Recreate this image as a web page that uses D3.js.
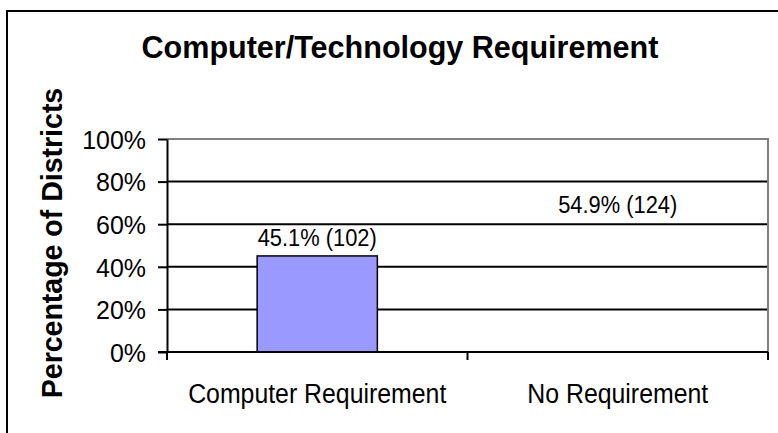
<!DOCTYPE html>
<html>
<head>
<meta charset="utf-8">
<script src="https://cdn.jsdelivr.net/npm/d3@7"></script>
<style>
  body { margin: 0; background: #fff; }
  text { font-family: "Liberation Sans", Arial, sans-serif; fill: #000; }
</style>
</head>
<body>
<div id="vis"></div>
<script>
// chart data
var categories = ['Computer Requirement', 'No Requirement'];
var percents = [45.1, 54.9];
var counts = [102, 124];
var yTicks = [0, 20, 40, 60, 80, 100];

var width = 778;
var height = 433;
var plot = { left: 167, right: 768, top: 139, bottom: 352 };

var barColors = ['#9999FF', 'none'];
var labelOffsets = [10, 22];

var svg = d3.select('#vis')
  .append('svg')
  .attr('width', width)
  .attr('height', height);

// outer frame
svg.append('rect')
  .attr('x', 7)
  .attr('y', 11)
  .attr('width', 800)
  .attr('height', 500)
  .attr('fill', 'none')
  .attr('stroke', '#000')
  .attr('stroke-width', 2);

var x0 = d3.scaleBand()
  .domain(categories)
  .range([plot.left, plot.right]);

var x = d3.scaleBand()
  .domain(categories)
  .range([plot.left, plot.right])
  .paddingInner(0.6)
  .paddingOuter(0.3);

var y = d3.scaleLinear()
  .domain([0, 100])
  .range([plot.bottom, plot.top]);

// squeeze text a little, the source looks slightly condensed
function squeeze(sel, k) {
  sel.each(function () {
    var w = this.getComputedTextLength();
    d3.select(this)
      .attr('textLength', w * k)
      .attr('lengthAdjust', 'spacingAndGlyphs');
  });
}

// gridlines
svg.selectAll('.grid')
  .data(yTicks.filter(function (d) { return d > 0 && d < 100; }))
  .enter().append('line')
  .attr('class', 'grid')
  .attr('x1', plot.left)
  .attr('x2', plot.right)
  .attr('y1', function (d) { return y(d); })
  .attr('y2', function (d) { return y(d); })
  .attr('stroke', '#000')
  .attr('stroke-width', 2);

// plot area border (top and right, gray)
svg.append('path')
  .attr('d', 'M' + plot.left + ',' + y(100) + 'H' + plot.right + 'V' + y(0))
  .attr('fill', 'none')
  .attr('stroke', '#808080')
  .attr('stroke-width', 2);

// bars
svg.selectAll('.bar')
  .data(percents)
  .enter().append('rect')
  .attr('class', 'bar')
  .attr('x', function (d, i) { return x(categories[i]); })
  .attr('width', x.bandwidth())
  .attr('y', function (d) { return y(d); })
  .attr('height', function (d) { return y(0) - y(d); })
  .attr('fill', function (d, i) { return barColors[i]; })
  .attr('stroke', function (d, i) { return barColors[i] === 'none' ? 'none' : '#000'; })
  .attr('stroke-width', 1.5);

// value labels
svg.selectAll('.value')
  .data(percents)
  .enter().append('text')
  .attr('class', 'value')
  .attr('x', function (d, i) { return x(categories[i]) + x.bandwidth() / 2; })
  .attr('y', function (d, i) { return y(d) - labelOffsets[i]; })
  .attr('text-anchor', 'middle')
  .style('font-size', '23px')
  .text(function (d, i) { return d.toFixed(1) + '% (' + counts[i] + ')'; })
  .call(squeeze, 0.95);

// y axis
var yAxis = svg.append('g')
  .attr('transform', 'translate(' + plot.left + ',0)')
  .call(d3.axisLeft(y)
    .tickValues(yTicks)
    .tickFormat(function (d) { return d + '%'; })
    .tickSize(9)
    .tickSizeOuter(0)
    .tickPadding(12));
yAxis.select('.domain').attr('stroke', '#000').attr('stroke-width', 2);
yAxis.selectAll('.tick line').attr('stroke', '#000').attr('stroke-width', 2);
yAxis.selectAll('.tick text')
  .style('font-size', '26px')
  .attr('dy', '0.36em')
  .call(squeeze, 0.96);

// x axis baseline and category dividers
svg.append('line')
  .attr('x1', plot.left - 9)
  .attr('x2', plot.right)
  .attr('y1', y(0))
  .attr('y2', y(0))
  .attr('stroke', '#000')
  .attr('stroke-width', 2);

var dividers = categories.map(function (c) { return x0(c); }).concat([plot.right]);
svg.selectAll('.divider')
  .data(dividers)
  .enter().append('line')
  .attr('class', 'divider')
  .attr('x1', function (d) { return d; })
  .attr('x2', function (d) { return d; })
  .attr('y1', y(0))
  .attr('y2', y(0) + 8)
  .attr('stroke', '#000')
  .attr('stroke-width', 2);

svg.selectAll('.category')
  .data(categories)
  .enter().append('text')
  .attr('class', 'category')
  .attr('x', function (d) { return x0(d) + x0.bandwidth() / 2; })
  .attr('y', 403)
  .attr('text-anchor', 'middle')
  .style('font-size', '27px')
  .text(function (d) { return d; })
  .call(squeeze, 0.92);

// title
svg.append('text')
  .attr('x', 400)
  .attr('y', 58)
  .attr('text-anchor', 'middle')
  .style('font-size', '31px')
  .style('font-weight', 'bold')
  .text('Computer/Technology Requirement')
  .call(squeeze, 0.985);

// y axis title
svg.append('text')
  .attr('transform', 'translate(62,243) rotate(-90)')
  .attr('text-anchor', 'middle')
  .style('font-size', '30px')
  .style('font-weight', 'bold')
  .text('Percentage of Districts')
  .call(squeeze, 0.95);
</script>
</body>
</html>
